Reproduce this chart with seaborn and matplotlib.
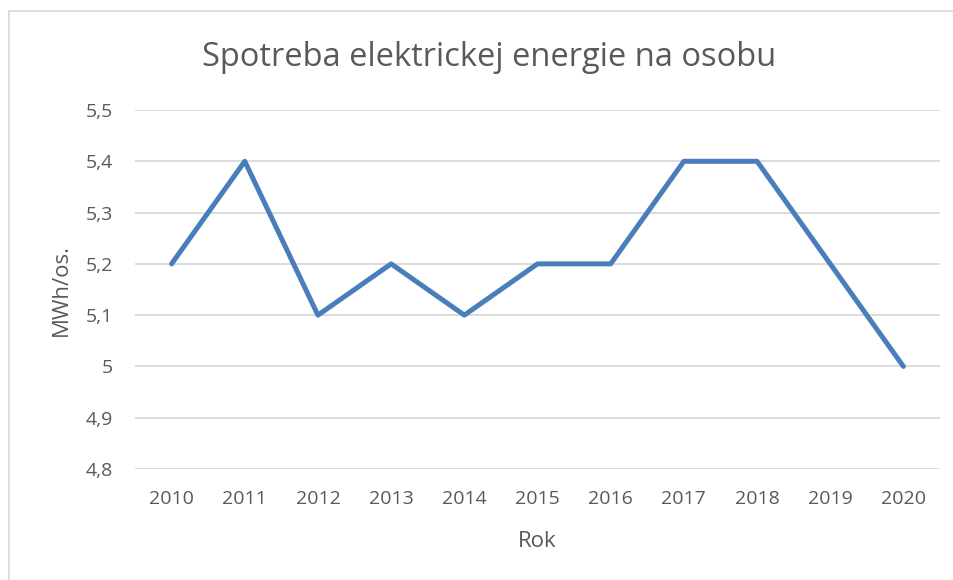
import matplotlib
matplotlib.use("Agg")
import matplotlib.pyplot as plt
import seaborn as sns
import pandas as pd
from matplotlib.lines import Line2D

years = ["2010", "2011", "2012", "2013", "2014", "2015", "2016", "2017", "2018", "2019", "2020"]
values = [5.2, 5.4, 5.1, 5.2, 5.1, 5.2, 5.2, 5.4, 5.4, 5.2, 5.0]
yticks = [4.8, 4.9, 5.0, 5.1, 5.2, 5.3, 5.4, 5.5]
ytick_labels = ["4,8", "4,9", "5", "5,1", "5,2", "5,3", "5,4", "5,5"]

df = pd.DataFrame({"Rok": years, "Spotreba": values})

sns.set_theme(style="white")
plt.rcParams["font.family"] = ["Open Sans", "DejaVu Sans"]

W, H = 954, 580
fig = plt.figure(figsize=(W / 100, H / 100), dpi=100)
ax = fig.add_axes([135 / W, 1 - 469 / H, (940 - 135) / W, (469 - 110) / H])

grey = "#595959"
sns.lineplot(data=df, x="Rok", y="Spotreba", ax=ax, color="#4A7EBB",
             linewidth=3.6, solid_joinstyle="round", solid_capstyle="round", sort=False)

ax.set_xlim(-0.5, len(years) - 0.5)
ax.set_ylim(4.8, 5.5)
ax.set_yticks(yticks)
ax.set_yticklabels(ytick_labels)
ax.yaxis.grid(True, color="#D9D9D9", linewidth=1.3)
ax.set_axisbelow(True)
for s in ax.spines.values():
    s.set_visible(False)
ax.tick_params(axis="both", length=0, labelsize=14, colors=grey)
ax.tick_params(axis="x", pad=15)
ax.tick_params(axis="y", pad=16)
ax.set_xlabel("Rok", fontsize=16, color=grey, labelpad=17)
ax.set_ylabel("MWh/os.", fontsize=16, color=grey, labelpad=10)

fig.text(489 / W, 1 - 57 / H, "Spotreba elektrickej energie na osobu",
         ha="center", va="center", fontsize=23.5, color=grey)

# chart area border (left and top visible)
fig.add_artist(Line2D([9.5 / W, 9.5 / W], [0, 1 - 11 / H], transform=fig.transFigure,
                      color="#D9D9D9", linewidth=1.2))
fig.add_artist(Line2D([9.5 / W, 1], [1 - 11 / H, 1 - 11 / H], transform=fig.transFigure,
                      color="#D9D9D9", linewidth=1.2))

fig.savefig("out.png", dpi=100)
